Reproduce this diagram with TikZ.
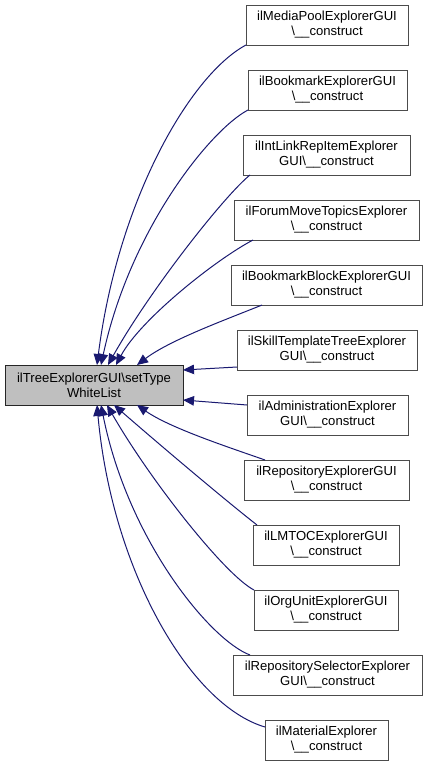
\documentclass[tikz,border=0pt]{standalone}
\usepackage{fontspec}
\setmainfont{Liberation Sans}
\usetikzlibrary{arrows.meta,calc}
\definecolor{edgecol}{HTML}{191970}
\begin{document}
\begin{tikzpicture}[x=1pt,y=-1pt,
  box/.style={draw=black!70,line width=0.9pt,minimum height=40pt,inner sep=0pt,outer sep=0pt,align=center,font=\fontsize{13.1}{15}\selectfont},
  mainbox/.style={box,draw=black!85,fill=black!25},
  edge/.style={draw=edgecol,line width=1pt,-{Triangle[length=11pt,width=9.5pt]}}]
\useasboundingbox (0,0) rectangle (428,771);
\node[mainbox,minimum width=178pt] (m) at (94,385) {ilTreeExplorerGUI\textbackslash setType\\WhiteList};
\node[box,minimum width=162pt] (n1) at (327,25) {ilMediaPoolExplorerGUI\\\textbackslash\_\_construct};
\node[box,minimum width=159pt] (n2) at (327.5,90) {ilBookmarkExplorerGUI\\\textbackslash\_\_construct};
\node[box,minimum width=167pt] (n3) at (326.5,155) {ilIntLinkRepItemExplorer\\GUI\textbackslash\_\_construct};
\node[box,minimum width=185pt] (n4) at (326.5,220) {ilForumMoveTopicsExplorer\\\textbackslash\_\_construct};
\node[box,minimum width=191pt] (n5) at (326.5,285) {ilBookmarkBlockExplorerGUI\\\textbackslash\_\_construct};
\node[box,minimum width=180pt] (n6) at (327,350) {ilSkillTemplateTreeExplorer\\GUI\textbackslash\_\_construct};
\node[box,minimum width=161pt] (n7) at (327.5,415) {ilAdministrationExplorer\\GUI\textbackslash\_\_construct};
\node[box,minimum width=165pt] (n8) at (326.5,480) {ilRepositoryExplorerGUI\\\textbackslash\_\_construct};
\node[box,minimum width=146pt] (n9) at (326,545) {ilLMTOCExplorerGUI\\\textbackslash\_\_construct};
\node[box,minimum width=144pt] (n10) at (326,610) {ilOrgUnitExplorerGUI\\\textbackslash\_\_construct};
\node[box,minimum width=189pt] (n11) at (327.5,675) {ilRepositorySelectorExplorer\\GUI\textbackslash\_\_construct};
\node[box,minimum width=123pt] (n12) at (326.5,740) {ilMaterialExplorer\\\textbackslash\_\_construct};
% edges
\draw[edge] (n1.south west) .. controls (190,75) and (118,200) .. ($(m.north)+(3,0)$);
\draw[edge] (n2.south west) .. controls (210,130) and (130,230) .. ($(m.north)+(7,0)$);
\draw[edge] ($(n3.south west)+(7,0)$) .. controls (225,195) and (150,290) .. ($(m.north)+(14,0)$);
\draw[edge] ($(n4.south west)+(19,0)$) .. controls (215,260) and (140,320) .. ($(m.north)+(22,0)$);
\draw[edge] ($(n5.south west)+(31,0)$) .. controls (225,320) and (170,340) .. ($(m.north)+(43,0)$);
\draw[edge] ($(n6.west)+(0,17)$) -- ($(m.east)+(0,-15)$);
\draw[edge] ($(n7.west)+(0,-10)$) -- ($(m.east)+(0,15)$);
\draw[edge] ($(n8.north west)+(21,0)$) .. controls (228,447) and (170,428) .. ($(m.south)+(43,0)$);
\draw[edge] ($(n9.north west)+(4,0)$) .. controls (225,500) and (160,445) .. ($(m.south)+(20,0)$);
\draw[edge] (n10.north west) .. controls (225,575) and (150,480) .. ($(m.south)+(13,0)$);
\draw[edge] ($(n11.north west)+(17,0)$) .. controls (210,640) and (128,540) .. ($(m.south)+(7,0)$);
\draw[edge] ($(n12.west)+(0,-13)$) .. controls (190,705) and (112,570) .. ($(m.south)+(3,0)$);
\end{tikzpicture}
\end{document}
